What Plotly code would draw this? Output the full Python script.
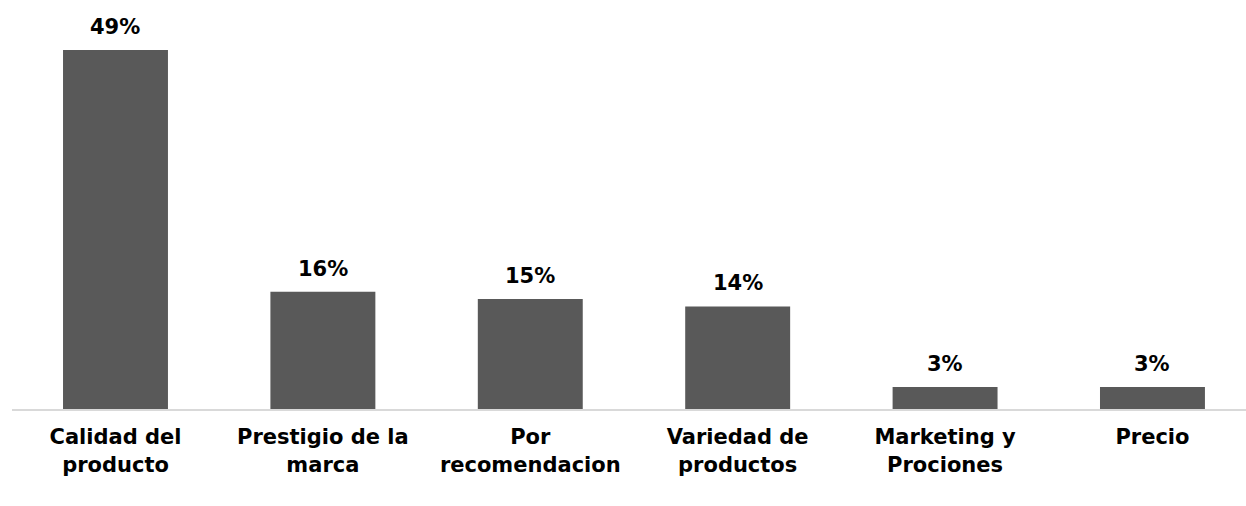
import plotly.graph_objects as go

# Factores de compra y porcentaje de respuestas
categorias = [
    "Calidad del<br>producto",
    "Prestigio de la<br>marca",
    "Por<br>recomendacion",
    "Variedad de<br>productos",
    "Marketing y<br>Prociones",
    "Precio",
]
porcentajes = [49, 16, 15, 14, 3, 3]
etiquetas = [f"{v}%" for v in porcentajes]

FUENTE = "DejaVu Sans"
GRIS_BARRA = "#595959"

fig = go.Figure(
    go.Bar(
        x=categorias,
        y=porcentajes,
        marker=dict(color=GRIS_BARRA, line=dict(width=0)),
        hoverinfo="skip",
    )
)

# Etiquetas de valor sobre cada barra
for cat, val, txt in zip(categorias, porcentajes, etiquetas):
    fig.add_annotation(
        x=cat, y=val, text=f"<b>{txt}</b>", showarrow=False,
        yanchor="bottom", yshift=9,
        font=dict(family=FUENTE, size=21, color="#000000"),
    )

fig.update_layout(
    width=1246,
    height=506,
    margin=dict(l=12, r=0, t=20, b=97),
    paper_bgcolor="white",
    plot_bgcolor="white",
    bargap=0.494,
    showlegend=False,
    xaxis=dict(
        range=[-0.499, 5.451],
        showline=True,
        linecolor="#d9d9d9",
        linewidth=2,
        showgrid=False,
        zeroline=False,
        ticks="",
        tickfont=dict(family=FUENTE, size=21, color="#000000", weight="bold"),
        ticklabelstandoff=8,
    ),
    yaxis=dict(
        range=[0, 53.1],
        visible=False,
        showgrid=False,
        zeroline=False,
    ),
)

fig.write_html("out.html")
